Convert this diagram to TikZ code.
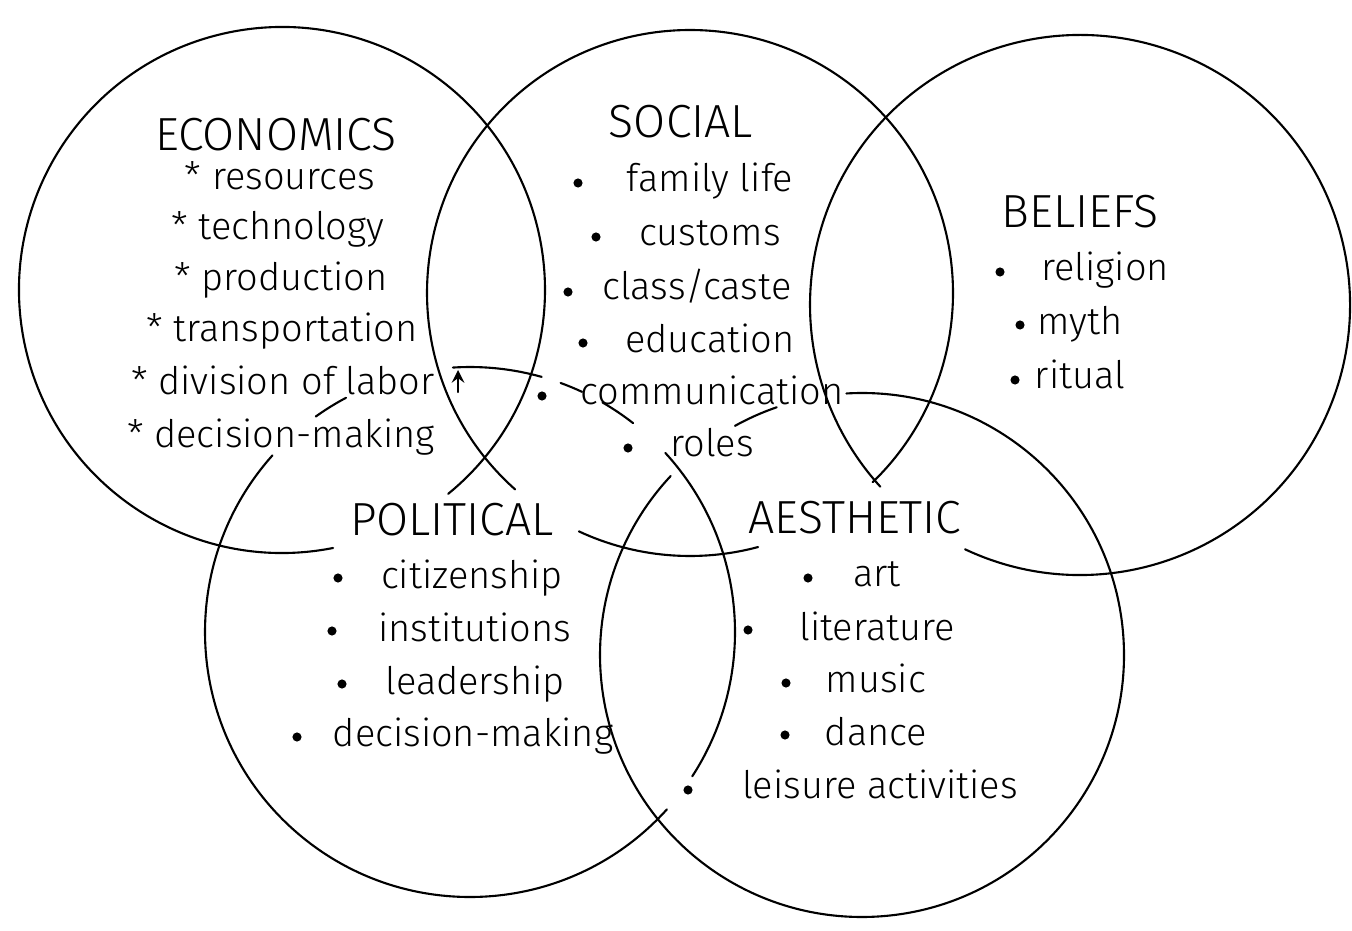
\documentclass[tikz,border=0pt]{standalone}
\usepackage{fontspec}
\setmainfont{Fira Sans}[UprightFont={* Light}]
\begin{document}
\begin{tikzpicture}[x=0.01cm,y=-0.01cm,line cap=round,line join=round,>=stealth,font=\fontsize{10.8}{13}\selectfont]
 \tikzset{ring/.style={line width=.6pt},
  head/.style={anchor=base,inner sep=0pt,font=\fontsize{13.2}{15}\selectfont},
  item/.style={anchor=base,inner sep=0pt}
 }
 \useasboundingbox (0,0) rectangle (1352,931);
 \coordinate (econ) at (282,290);
 \coordinate (soc) at (690,293);
 \coordinate (bel) at (1080,305);
 \coordinate (pol) at (470,632);
 \coordinate (aes) at (862,655);
 % the five rings, broken where the labels sit
 \draw[ring] (econ) ++(78.8:263) arc[start angle=78.8,end angle=410.8,radius=263];
 \draw[ring] (soc) ++(131.7:263) arc[start angle=131.7,end angle=406,radius=263]
  (soc) ++(75:263) arc[start angle=75,end angle=115,radius=263];
 \draw[ring] (bel) ++(115.2:270) arc[start angle=115.2,end angle=-222.3,radius=270];
 \draw[ring] (pol) ++(-42.5:265) arc[start angle=-42.5,end angle=33,radius=265]
  (pol) ++(42:265) arc[start angle=42,end angle=221.8,radius=265]
  (pol) ++(-125.6:265) arc[start angle=-125.6,end angle=-117.9,radius=265]
  (pol) ++(-93.7:265) arc[start angle=-93.7,end angle=-74.3,radius=265]
  (pol) ++(-70:265) arc[start angle=-70,end angle=-65,radius=265]
  (pol) ++(-60:265) arc[start angle=-60,end angle=-52,radius=265];
 \draw[ring,->] (458,392)--(458,370);
 \draw[ring] (aes) ++(-93.4:262) arc[start angle=-93.4,end angle=223.1,radius=262]
  (aes) ++(-119:262) arc[start angle=-119,end angle=-109,radius=262];
 % economics
 \node[head] (econ-h) at (276,151) {ECONOMICS};
 \node[item] (econ-1) at (280,190) {* resources};
 \node[item] (econ-2) at (278,240) {* technology};
 \node[item] (econ-3) at (281,291) {* production};
 \node[item] (econ-4) at (282,342) {* transportation};
 \node[item] (econ-5) at (283,395) {* division of labor};
 \node[item] (econ-6) at (281,448) {* decision-making};
 % social
 \node[head] (soc-h) at (681,138) {SOCIAL};
 \node[item] (soc-1) at (710,192) {family life};
 \node[item] (soc-2) at (710,246) {customs};
 \node[item] (soc-3) at (697,300) {class/caste};
 \node[item] (soc-4) at (710,353) {education};
 \node[item] (soc-5) at (712,405) {communication};
 \node[item] (soc-6) at (712,457) {roles};
 \fill (578,183) circle (1.3pt) (596,237) circle (1.3pt) (568,292) circle (1.3pt)
  (583,343) circle (1.3pt) (542,396) circle (1.3pt) (628,448) circle (1.3pt);
 % beliefs
 \node[head] (bel-h) at (1080,228) {BELIEFS};
 \node[item] (bel-1) at (1105,281) {religion};
 \node[item] (bel-2) at (1080,335) {myth};
 \node[item] (bel-3) at (1080,389) {ritual};
 \fill (1000,272) circle (1.3pt) (1020,325) circle (1.3pt) (1015,380) circle (1.3pt);
 % political
 \node[head] (pol-h) at (452,536) {POLITICAL};
 \node[item] (pol-1) at (472,589) {citizenship};
 \node[item] (pol-2) at (475,641) {institutions};
 \node[item] (pol-3) at (475,694) {leadership};
 \node[item] (pol-4) at (473,746) {decision-making};
 \fill (338,578) circle (1.3pt) (332,631) circle (1.3pt) (342,684) circle (1.3pt)
  (297,737) circle (1.3pt);
 % aesthetic
 \node[head] (aes-h) at (855,534) {AESTHETIC};
 \node[item] (aes-1) at (877,587) {art};
 \node[item] (aes-2) at (877,640) {literature};
 \node[item] (aes-3) at (876,692) {music};
 \node[item] (aes-4) at (876,745) {dance};
 \node[item] (aes-5) at (880,798) {leisure activities};
 \fill (808,578) circle (1.3pt) (748,630) circle (1.3pt) (786,683) circle (1.3pt)
  (785,735) circle (1.3pt) (688,790) circle (1.3pt);
\end{tikzpicture}
\end{document}
